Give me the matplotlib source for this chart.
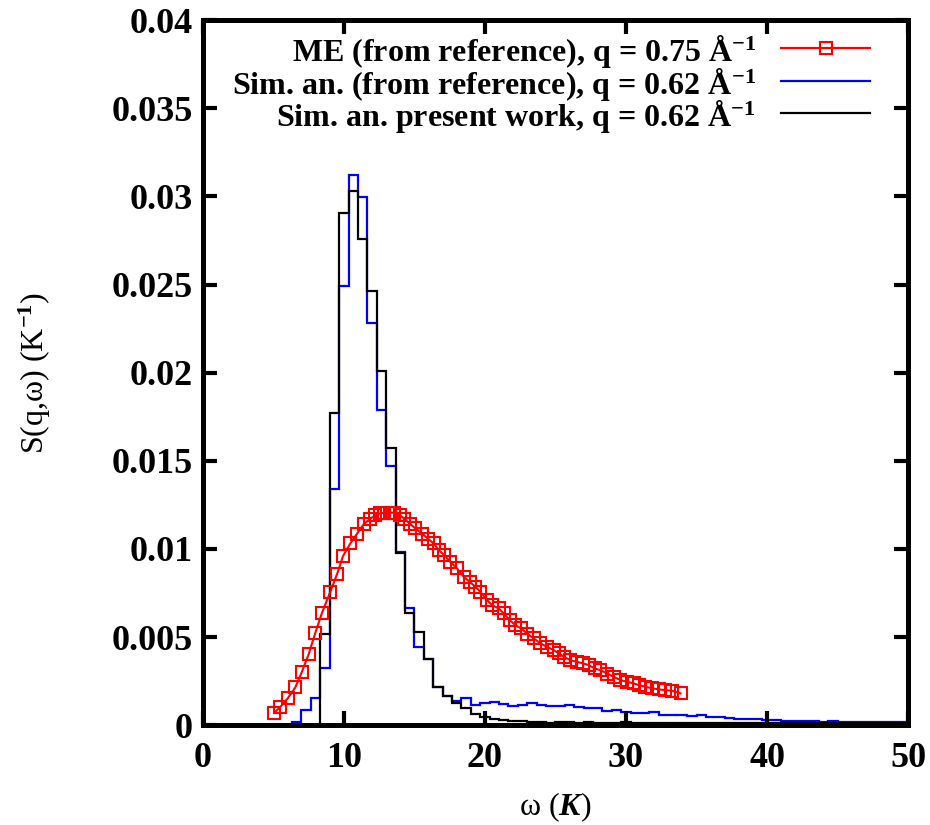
import numpy as np
import matplotlib
matplotlib.use('Agg')
import matplotlib.pyplot as plt
from matplotlib.lines import Line2D

plt.rcParams['font.family'] = ['Liberation Serif', 'DejaVu Serif']
plt.rcParams['font.weight'] = 'bold'
plt.rcParams['mathtext.fontset'] = 'custom'
plt.rcParams['mathtext.rm'] = 'Liberation Serif:bold'
plt.rcParams['mathtext.bf'] = 'Liberation Serif:bold'
plt.rcParams['mathtext.it'] = 'Liberation Serif:italic:bold'

# ME curve (from reference), q = 0.75 A^-1
me_omega = [5.07, 5.50, 6.02, 6.56, 7.03, 7.51, 7.98, 8.45, 9.04, 9.52,
            9.94, 10.46, 10.94, 11.41, 11.88, 12.23, 12.54, 12.87, 13.25, 13.58,
            13.96, 14.29, 14.67, 15.07, 15.55, 15.95, 16.37, 16.73, 17.13, 17.55,
            18.03, 18.50, 18.93, 19.33, 19.68, 20.16, 20.51, 20.98, 21.34, 21.76,
            22.16, 22.57, 22.99, 23.46, 23.94, 24.41, 24.88, 25.24, 25.59, 26.06,
            26.54, 26.96, 27.36, 27.77, 28.19, 28.67, 29.13, 29.61, 30.09, 30.55,
            30.91, 31.38, 31.86, 32.33, 32.80, 33.28, 33.87]
me_s = [0.00070, 0.00104, 0.00152, 0.00214, 0.00303, 0.00403, 0.00524, 0.00637, 0.00756, 0.00857,
        0.00959, 0.01031, 0.01087, 0.01140, 0.01172, 0.01191, 0.01201, 0.01206, 0.01206, 0.01206,
        0.01191, 0.01172, 0.01144, 0.01116, 0.01087, 0.01059, 0.01031, 0.00993, 0.00964, 0.00926,
        0.00889, 0.00841, 0.00813, 0.00785, 0.00756, 0.00709, 0.00681, 0.00662, 0.00634, 0.00596,
        0.00567, 0.00549, 0.00520, 0.00492, 0.00464, 0.00444, 0.00426, 0.00407, 0.00388, 0.00369,
        0.00359, 0.00350, 0.00341, 0.00322, 0.00312, 0.00293, 0.00274, 0.00256, 0.00246, 0.00237,
        0.00227, 0.00218, 0.00209, 0.00203, 0.00199, 0.00195, 0.00180]

# histograms: bins of width 2/3 K starting at 19/3 K
bin_start = 19 / 3
bin_width = 2 / 3

ref_sim = [0.00020, 0.00086, 0.00152, 0.00322, 0.01338, 0.02489, 0.03122, 0.02995, 0.02283, 0.01790,
           0.01469, 0.00980, 0.00666, 0.00444, 0.00373, 0.00214, 0.00165, 0.00138, 0.00152, 0.00114,
           0.00123, 0.00129, 0.00120, 0.00108, 0.00114, 0.00123, 0.00114, 0.00110, 0.00110, 0.00117,
           0.00105, 0.00100, 0.00095, 0.00080, 0.00086, 0.00076, 0.00067, 0.00070, 0.00076, 0.00057,
           0.00055, 0.00055, 0.00050, 0.00057, 0.00045, 0.00045, 0.00040, 0.00035, 0.00035, 0.00033,
           0.00030, 0.00028, 0.00025, 0.00025, 0.00022, 0.00022, 0.00020, 0.00022, 0.00020, 0.00020,
           0.00018, 0.00020, 0.00018, 0.00018, 0.00016, 0.00016]

present_sim = [0.0, 0.0, 0.0, 0.00520, 0.01769, 0.02907, 0.03030, 0.02760, 0.02463, 0.02011,
               0.01573, 0.00974, 0.00637, 0.00530, 0.00373, 0.00214, 0.00165, 0.00127, 0.00095, 0.00061,
               0.00045, 0.00035, 0.00030, 0.00025, 0.00022, 0.00020, 0.00020, 0.00015, 0.00018, 0.00020,
               0.00015, 0.00018, 0.00015, 0.00012, 0.00015, 0.00018, 0.00012, 0.00015, 0.00012, 0.00015,
               0.00012, 0.00010, 0.00012, 0.00015, 0.00012, 0.00010, 0.00012, 0.00010, 0.00015, 0.00012,
               0.00010, 0.00012, 0.00015, 0.00010, 0.00012, 0.00010, 0.00012, 0.00015, 0.00012, 0.00010,
               0.00012, 0.00015, 0.00012, 0.00010, 0.00012, 0.00010]

labels = [r'ME (from reference), q = 0.75 Å$^{-1}$',
          r'Sim. an. (from reference), q = 0.62 Å$^{-1}$',
          r'Sim. an. present work, q = 0.62 Å$^{-1}$']
colors = ['#ff0000', '#0000ff', 'black']

edges = bin_start + bin_width * np.arange(len(ref_sim) + 1)

fig = plt.figure(figsize=(9.3, 8.25), dpi=100)
ax = fig.add_axes([0.218, 0.121, 0.7585, 0.8546])

ax.plot(me_omega, me_s, color=colors[0], lw=1.5, marker='s', ms=9, mfc='none',
        mec=colors[0], mew=1.5)
ax.stairs(ref_sim, edges, color=colors[1], lw=1.6, baseline=0)
ax.stairs(present_sim, edges, color=colors[2], lw=1.6, baseline=0)

ax.set_xlim(0, 50)
ax.set_ylim(0, 0.04)
ax.set_xticks([0, 10, 20, 30, 40, 50])
ax.set_yticks(np.arange(0, 0.0401, 0.005))
ax.yaxis.set_major_formatter(plt.FuncFormatter(lambda v, p: '%g' % round(v, 4)))

for s in ax.spines.values():
    s.set_linewidth(3.6)
ax.tick_params(direction='in', length=10, width=3, top=True, right=True,
               labelsize=26)
ax.tick_params(axis='x', pad=12)
ax.tick_params(axis='y', pad=7)

ax.set_xlabel(r'ω ($\mathit{K}$)', fontsize=23)
ax.xaxis.set_label_coords(0.5, -0.092)
ax.set_ylabel(r'S(q,ω) (K$^{-1}$)', fontsize=23)
ax.yaxis.set_label_coords(-0.212, 0.5)

# key, drawn by hand in axes coordinates (gnuplot style: text then sample)
def ax_x(px):
    return (px - 202.5) / 705.5

def ax_y(py):
    return (725.0 - py) / 705.0

row_y = [48, 81, 113]
for i in range(3):
    ax.text(ax_x(756), ax_y(row_y[i] + 13), labels[i], ha='right', va='baseline',
            fontsize=23, transform=ax.transAxes)
    ax.add_line(Line2D([ax_x(781), ax_x(870)], [ax_y(row_y[i])] * 2,
                       color=colors[i], lw=1.6, transform=ax.transAxes))
ax.add_line(Line2D([ax_x(825.5)], [ax_y(row_y[0])], marker='s', ms=9, mfc='none',
                   mec=colors[0], mew=1.5, transform=ax.transAxes))

fig.savefig('out.png', dpi=100)
